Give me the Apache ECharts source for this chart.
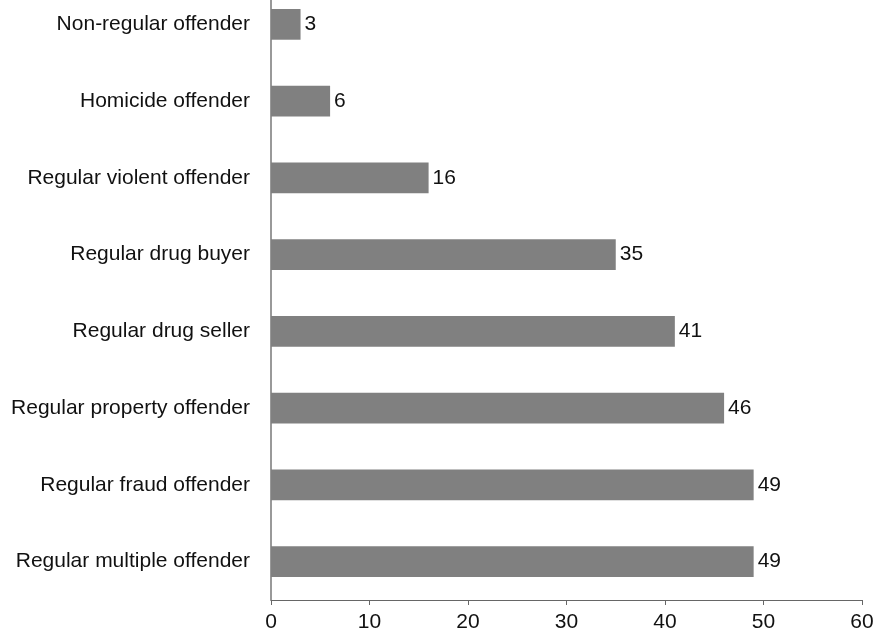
<!DOCTYPE html>
<html><head><meta charset="utf-8">
<script src="https://cdn.jsdelivr.net/npm/echarts@6/dist/echarts.min.js"></script>
<style>html,body{margin:0;padding:0;background:#fff}#c{width:879px;height:638px}</style>
</head><body><div id="c"></div>
<script>
const categories = ["Regular multiple offender","Regular fraud offender","Regular property offender","Regular drug seller","Regular drug buyer","Regular violent offender","Homicide offender","Non-regular offender"];
const values = [49,49,46,41,35,16,6,3];
const xTicks = [0,10,20,30,40,50,60];
const FONT = 'Liberation Sans, Arial, sans-serif';
const chart = echarts.init(document.getElementById('c'), null, {renderer:'canvas'});
chart.setOption({
  animation:false,
  backgroundColor:'#fff',
  grid:{left:271,right:17,top:-14,bottom:38,containLabel:false,outerBoundsMode:'none'},
  xAxis:{type:'value',min:xTicks[0],max:xTicks[xTicks.length-1],interval:10,
    axisLine:{show:true,lineStyle:{color:'#666',width:1}},
    axisTick:{show:true,inside:false,length:5,lineStyle:{color:'#666'}},
    splitLine:{show:false},
    axisLabel:{color:'#111',fontSize:21,fontFamily:FONT,margin:12}},
  yAxis:{type:'category',data:categories,
    axisLine:{show:true,lineStyle:{color:'#777',width:1.5}},
    axisTick:{show:false},
    axisLabel:{color:'#111',fontSize:21,fontFamily:FONT,margin:21}},
  series:[{type:'bar',data:values,barWidth:'40%',itemStyle:{color:'#808080'},
    label:{show:true,position:'right',distance:4,color:'#111',fontSize:21,fontFamily:FONT}}]
});
</script></body></html>
